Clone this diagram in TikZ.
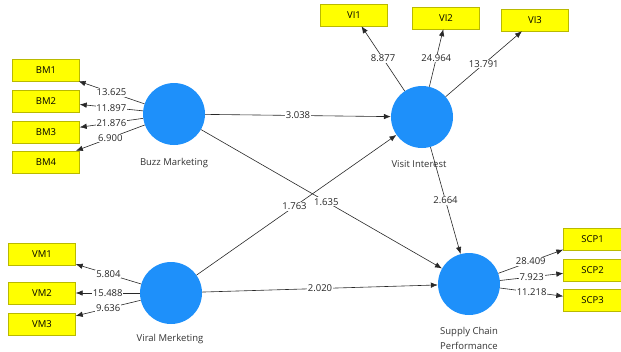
\documentclass[tikz,border=0pt]{standalone}
\usepackage{fontspec}
\setmainfont{Open Sans}
\usepackage{tikz}
\usetikzlibrary{shapes,calc,arrows.meta,positioning}
\usepackage{xcolor}

\begin{document}
\begin{tikzpicture}[x=1pt,y=-1pt,font=\fontsize{9.5}{11}\selectfont]

\definecolor{lvblue}{RGB}{30,144,250}
\definecolor{indyellow}{RGB}{255,255,0}
\definecolor{indedge}{RGB}{185,185,0}
\definecolor{pathgray}{RGB}{40,40,40}

\tikzset{
  latent/.style={circle,fill=lvblue,minimum size=62pt,inner sep=0pt},
  indicator/.style={rectangle,draw=indedge,fill=indyellow,minimum width=67pt,minimum height=22pt,inner sep=0pt},
  path/.style={draw=pathgray,line width=0.6pt,-{Latex[length=7pt,width=5.5pt]}},
  tval/.style={fill=white,inner sep=0.8pt,text=black!85},
  lvname/.style={text=black!80,align=center}
}

\useasboundingbox (0,0) rectangle (621,351);

% latent variables
\node [latent] (BM) at (174,114) {};
\node [latent] (VI) at (422,117) {};
\node [latent] (VM) at (171,293) {};
\node [latent] (SCP) at (469,284) {};

\node [lvname] (BMname) at (174,163) {Buzz Marketing};
\node [lvname] (VIname) at (419,164) {Visit Interest};
\node [lvname] (VMname) at (170,339) {Viral Merketing};
\node [lvname,font=\fontsize{9.5}{15}\selectfont] (SCPname) at (469,338) {Supply Chain\\Performance};

% indicators
\node [indicator] (BM1) at (46,70) {BM1};
\node [indicator] (BM2) at (46,101) {BM2};
\node [indicator] (BM3) at (46,132) {BM3};
\node [indicator] (BM4) at (46,162) {BM4};

\node [indicator] (VI1) at (354,15) {VI1};
\node [indicator] (VI2) at (446,18) {VI2};
\node [indicator] (VI3) at (535,20) {VI3};

\node [indicator] (VM1) at (42,254) {VM1};
\node [indicator] (VM2) at (42,293) {VM2};
\node [indicator] (VM3) at (42,324) {VM3};

\node [indicator,minimum width=58pt] (SCP1) at (592.5,239) {SCP1};
\node [indicator,minimum width=58pt] (SCP2) at (592.5,270) {SCP2};
\node [indicator,minimum width=58pt] (SCP3) at (592.5,300) {SCP3};

% outer loadings
\draw [path] (BM) -- node [tval] {13.625} (BM1);
\draw [path] (BM) -- node [tval] {11.897} (BM2);
\draw [path] (BM) -- node [tval] {21.876} (BM3);
\draw [path] (BM) -- node [tval] {6.900} (BM4);

\draw [path] (VI) -- node [tval] {8.877} (VI1);
\draw [path] (VI) -- node [tval] {24.964} (VI2);
\draw [path] (VI) -- node [tval] {13.791} (VI3);

\draw [path] (VM) -- node [tval] {5.804} (VM1);
\draw [path] (VM) -- node [tval] {15.488} (VM2);
\draw [path] (VM) -- node [tval] {9.636} (VM3);

\draw [path] (SCP) -- node [tval] {28.409} (SCP1);
\draw [path] (SCP) -- node [tval] {7.923} (SCP2);
\draw [path] (SCP) -- node [tval] {11.218} (SCP3);

% inner model
\draw [path] (BM) -- node [tval] {3.038} (VI);
\draw [path] (BM) -- node [tval,pos=0.52] {1.635} (SCP);
\draw [path] (VM) -- node [tval,pos=0.49] {1.763} (VI);
\draw [path] (VM) -- node [tval] {2.020} (SCP);
\draw [path] (VI) -- node [tval] {2.664} (SCP);

\end{tikzpicture}
\end{document}
